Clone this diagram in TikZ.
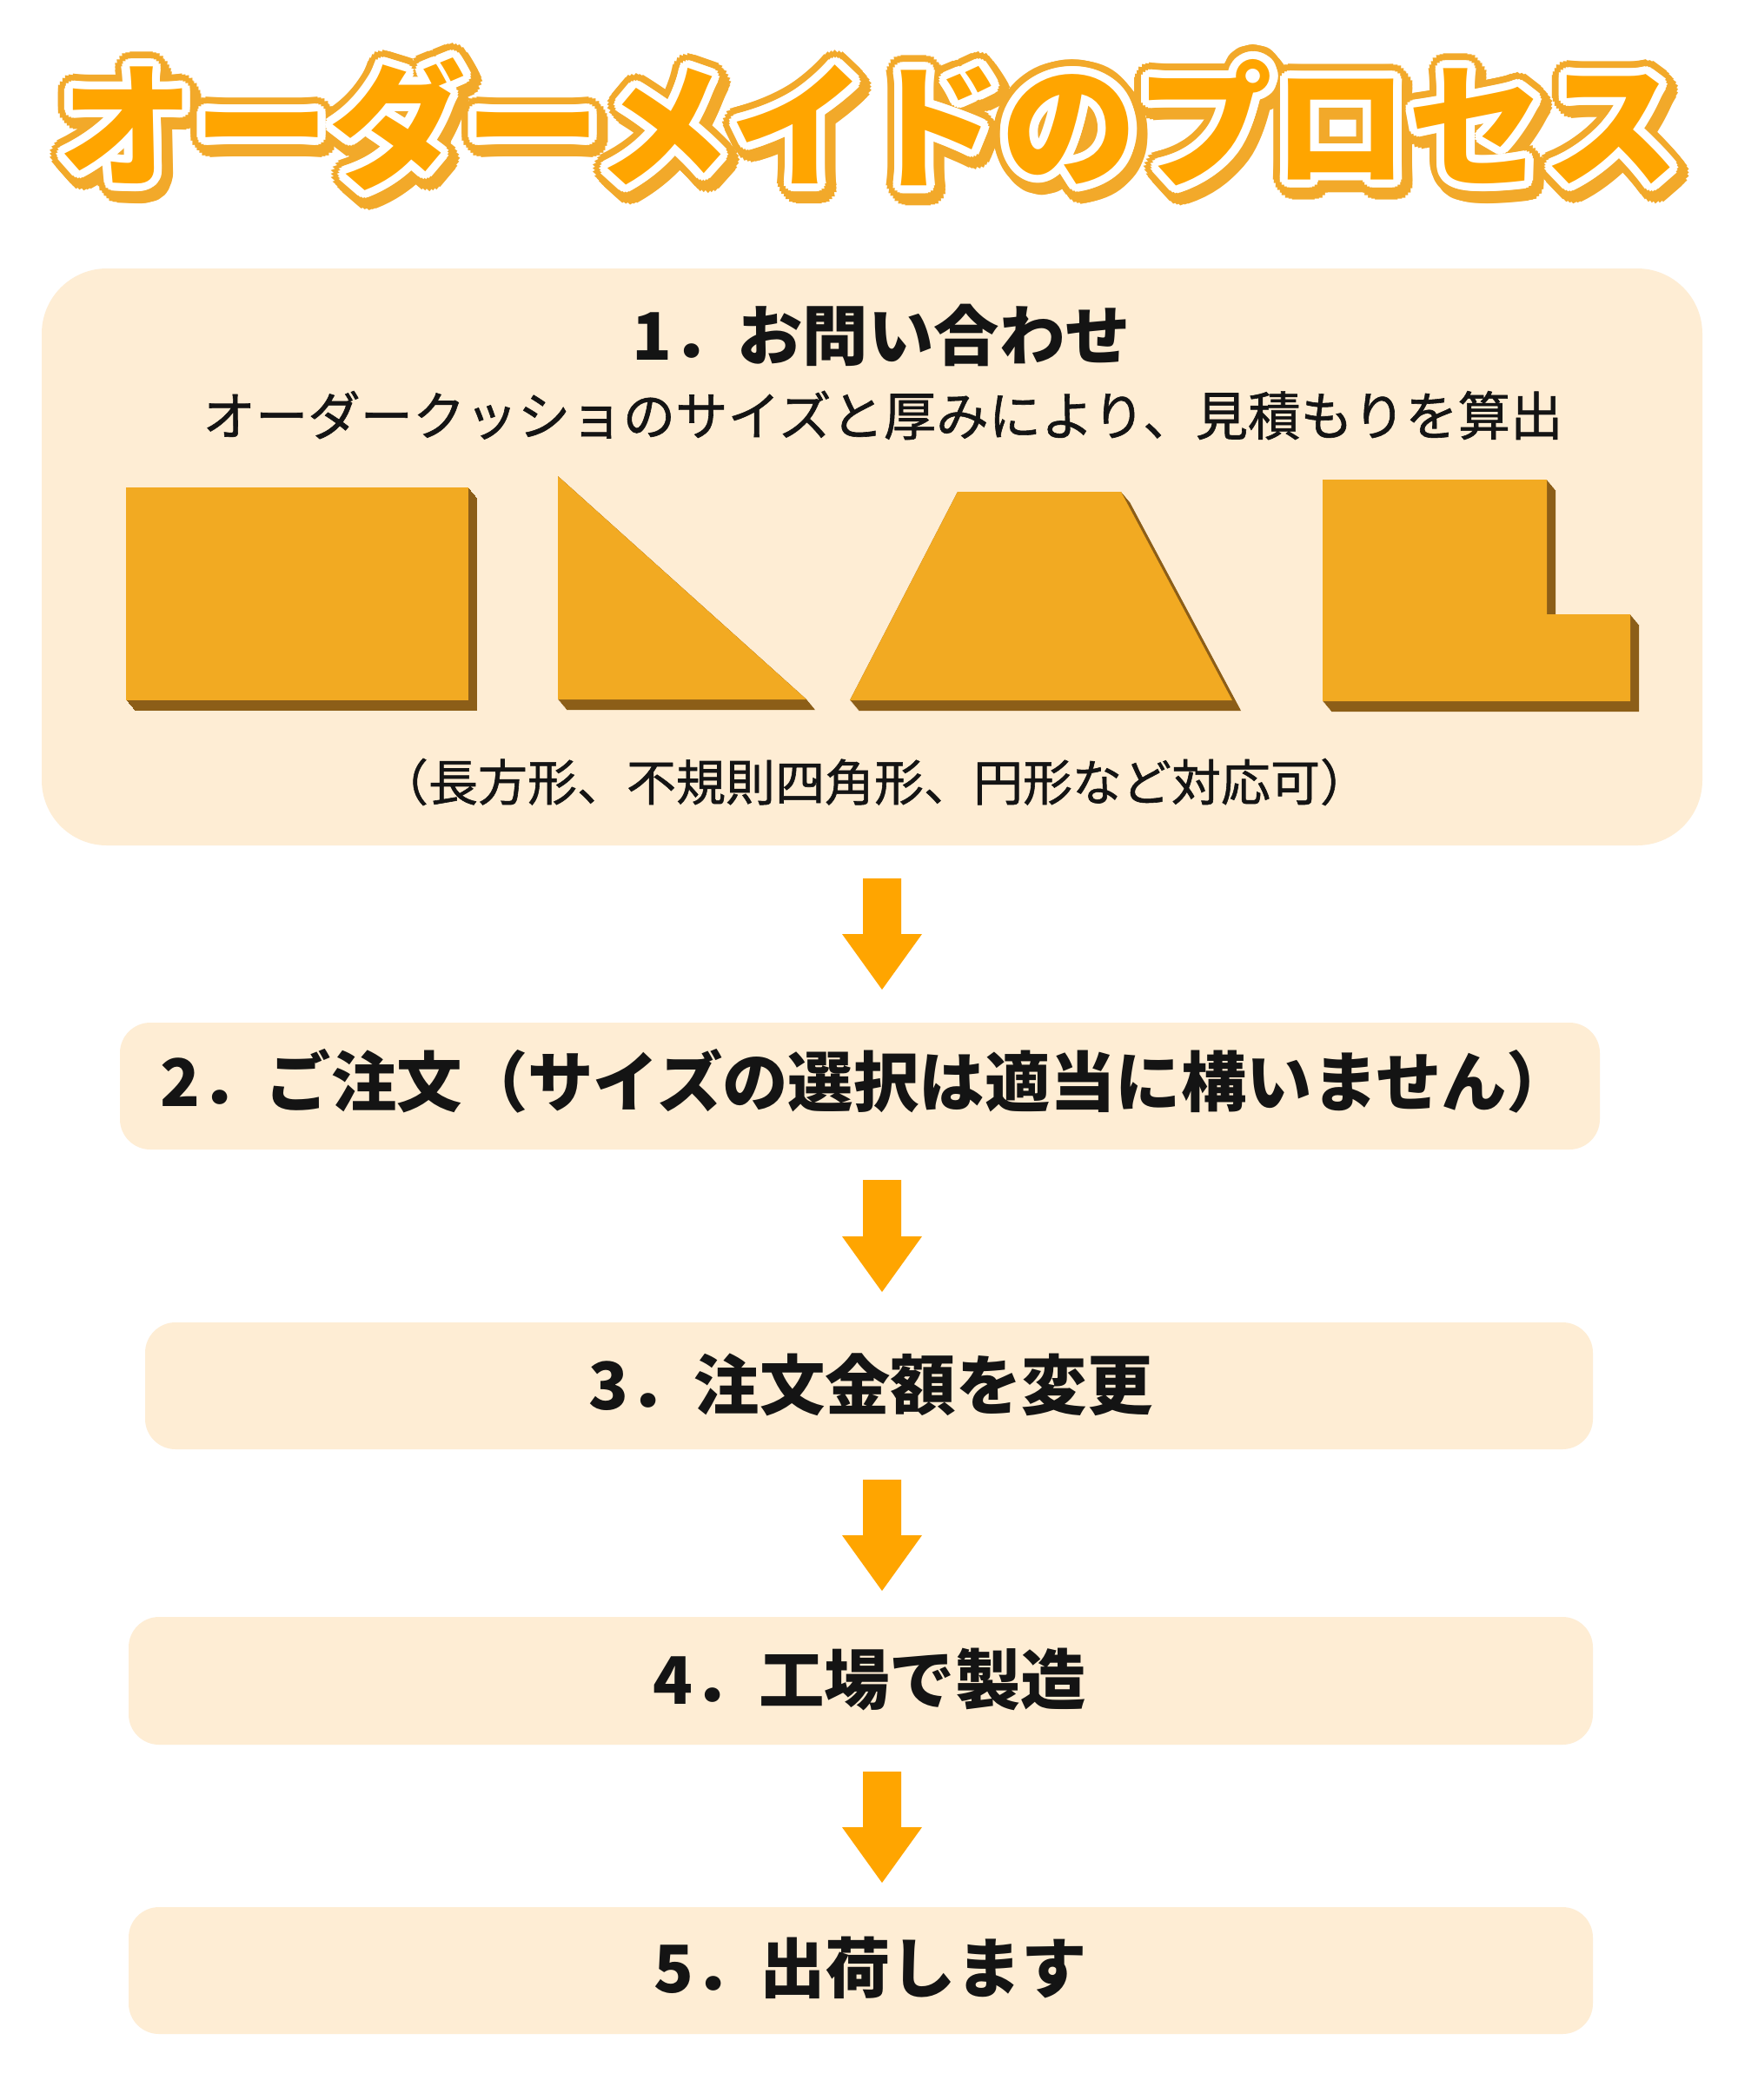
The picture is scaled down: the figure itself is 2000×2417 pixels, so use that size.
\documentclass[tikz,border=0pt]{standalone}
\usepackage{fontspec}
\setmainfont{Noto Sans CJK JP}
\newfontfamily\subfont[FakeBold=1]{Noto Sans CJK JP}
\usetikzlibrary{calc}
\definecolor{cream}{RGB}{254,237,212}
\definecolor{facec}{RGB}{242,170,34}
\definecolor{shadec}{RGB}{140,94,24}
\definecolor{arrowc}{RGB}{255,165,0}
\definecolor{titlec}{RGB}{255,165,0}
\definecolor{ringc}{RGB}{242,169,42}
\definecolor{inkc}{RGB}{20,20,20}
\tikzset{
  stepbox/.style={fill=cream, draw=none, rounded corners=17.5pt, inner sep=0pt},
  bigbox/.style={fill=cream, draw=none, rounded corners=37.5pt, inner sep=0pt},
  ttl/.style={font=\bfseries\fontsize{78pt}{78pt}\selectfont, inner sep=0pt},
  headtxt/.style={font=\bfseries\fontsize{37.7pt}{38pt}\selectfont, text=inkc, inner sep=0pt},
  subtxt/.style={font=\subfont\fontsize{30.2pt}{31pt}\selectfont, text=inkc, inner sep=0pt},
  captxt/.style={font=\subfont\fontsize{28.5pt}{29pt}\selectfont, text=inkc, inner sep=0pt},
  face/.style={fill=facec},
  shade/.style={fill=shadec},
  flow/.style={fill=arrowc},
}
\newcommand\TitleText{オーダーメイドのプロセス}
\newcommand\Slab[1]{%
  \foreach \k in {0,...,12}{\fill[shade,shift={({\k*10/12},\k)}] #1;}
  \fill[face] #1;}
\newcommand\FlowArrow[2]{%
  \fill[flow] ($(#1)+(-22,0)$) -- ($(#1)+(22,0)$) -- ($(#2)+(22,-64)$)
    -- ($(#2)+(46,-64)$) -- (#2) -- ($(#2)+(-46,-64)$) -- ($(#2)+(-22,-64)$) -- cycle;}
\begin{document}
\begin{tikzpicture}[x=0.5pt,y=-0.5pt]
\useasboundingbox (0,0) rectangle (2000,2417);
\fill[white] (0,0) rectangle (2000,2417);

% ---------- title (outlined by copies) ----------
\foreach \a in {0,15,...,345}{
  \node[ttl,text=ringc] (tsh\a) at ({1000+5+17*cos(\a)},{143+6+17*sin(\a)}) {\TitleText};}
\foreach \a in {0,15,...,345}{
  \node[ttl,text=ringc] (tr\a) at ({1000+17*cos(\a)},{143+17*sin(\a)}) {\TitleText};}
\foreach \a in {0,20,...,340}{
  \node[ttl,text=white] (tw\a) at ({1000+9.5*cos(\a)},{143+9.5*sin(\a)}) {\TitleText};
  \node[ttl,text=white] (tv\a) at ({1000+5*cos(\a)},{143+5*sin(\a)}) {\TitleText};}
\node[ttl,text=titlec] (title) at (1000,143) {\TitleText};

% ---------- boxes ----------
\node[bigbox, minimum width=955.5pt, minimum height=332pt] (box1) at (1003.5,641) {};
\node[stepbox, minimum width=851.5pt, minimum height=73pt] (box2) at (989.5,1250) {};
\node[stepbox, minimum width=833pt, minimum height=73pt] (box3) at (1000,1595) {};
\node[stepbox, minimum width=842.5pt, minimum height=73.5pt] (box4) at (990.5,1934.5) {};
\node[stepbox, minimum width=842.5pt, minimum height=73pt] (box5) at (990.5,2268) {};

% ---------- step 1 contents ----------
\node[headtxt] (s1) at (1014,386) {1．お問い合わせ};
\node[subtxt] (s1sub) at (1016,478) {オーダークッショのサイズと厚みにより、見積もりを算出};

\Slab{(145,561) -- (539,561) -- (539,806) -- (145,806) -- cycle}
\Slab{(642,548) -- (928,805) -- (642,805) -- cycle}
\Slab{(1102,566) -- (1290,566) -- (1418,806) -- (978,806) -- cycle}
\Slab{(1522,552) -- (1780,552) -- (1780,707) -- (1876,707) -- (1876,807) -- (1522,807) -- cycle}

\node[captxt] (s1cap) at (1006,900) {（長方形、不規則四角形、円形など対応可）};

% ---------- steps ----------
\node[headtxt] (s2) at (997,1244) {2．ご注文（サイズの選択は適当に構いません）};
\node[headtxt] (s3) at (1002,1594) {3．注文金額を変更};
\node[headtxt] (s4) at (1001,1933) {4．工場で製造};
\node[headtxt] (s5) at (1002,2265) {5．出荷します};

% ---------- arrows ----------
\coordinate (a1s) at (1015,1011); \coordinate (a1e) at (1015,1139);
\coordinate (a2s) at (1015,1358); \coordinate (a2e) at (1015,1487);
\coordinate (a3s) at (1015,1703); \coordinate (a3e) at (1015,1831);
\coordinate (a4s) at (1015,2039); \coordinate (a4e) at (1015,2167);
\FlowArrow{a1s}{a1e}
\FlowArrow{a2s}{a2e}
\FlowArrow{a3s}{a3e}
\FlowArrow{a4s}{a4e}
\end{tikzpicture}
\end{document}
